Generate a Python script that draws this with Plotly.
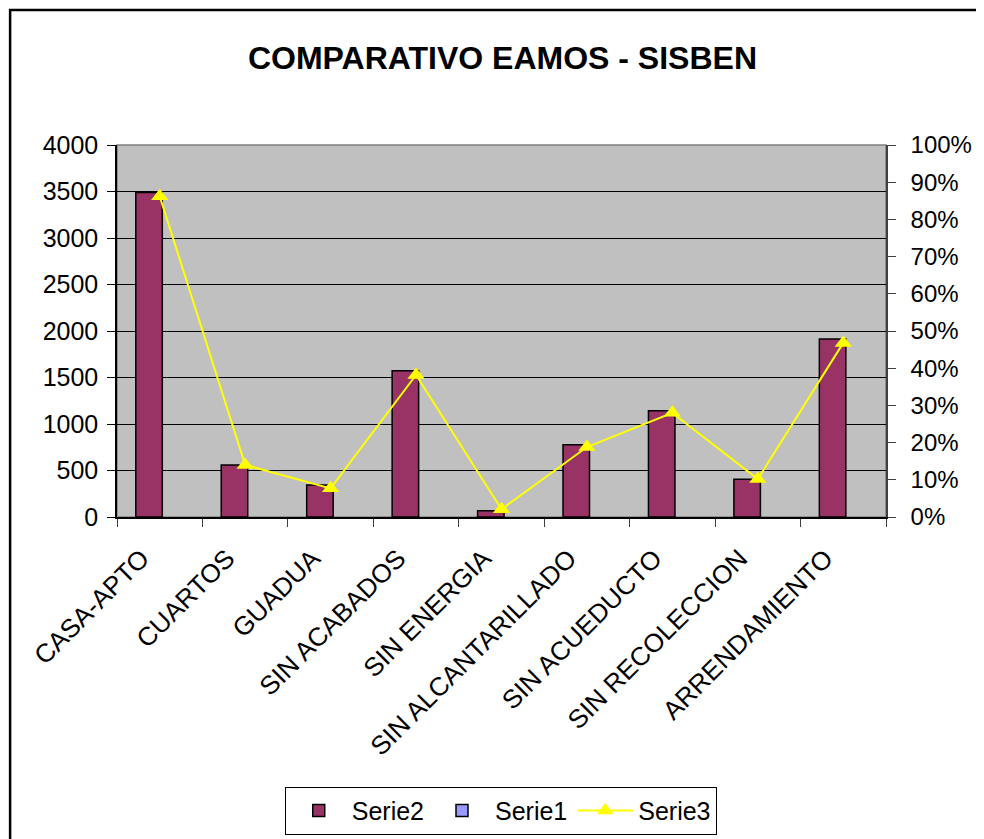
import plotly.graph_objects as go

categories = ["CASA-APTO", "CUARTOS", "GUADUA", "SIN ACABADOS", "SIN ENERGIA",
              "SIN ALCANTARILLADO", "SIN ACUEDUCTO", "SIN RECOLECCION", "ARRENDAMIENTO"]
serie2 = [3490, 560, 345, 1572, 68, 776, 1142, 405, 1914]
serie1 = [None] * 9
serie3 = [0.862, 0.140, 0.077, 0.382, 0.021, 0.188, 0.280, 0.102, 0.468]

left_ticks = [0, 500, 1000, 1500, 2000, 2500, 3000, 3500, 4000]
right_ticks = [i / 10 for i in range(11)]

FONT = "Liberation Sans, Arial, sans-serif"

fig = go.Figure()
fig.add_trace(go.Bar(
    x=categories, y=serie2, name="Serie2",
    marker=dict(color="#993366", line=dict(color="black", width=1.5)),
    offset=-0.28, width=0.31,
))
fig.add_trace(go.Bar(
    x=categories, y=serie1, name="Serie1",
    marker=dict(color="#9999FF", line=dict(color="black", width=1.5)),
    offset=0.03, width=0.31,
))
fig.add_trace(go.Scatter(
    x=categories, y=serie3, name="Serie3", yaxis="y2",
    mode="lines+markers",
    line=dict(color="#FFFF00", width=2),
    marker=dict(symbol="triangle-up", size=15, color="#FFFF00"),
))

boundaries = [i - 0.5 for i in range(len(categories) + 1)]

fig.update_layout(
    width=984, height=839,
    margin=dict(l=109, r=106, t=137, b=330),
    paper_bgcolor="white",
    plot_bgcolor="#C0C0C0",
    barmode="overlay",
    font=dict(family=FONT, size=25, color="black"),
    title=dict(text="<b>COMPARATIVO EAMOS - SISBEN</b>",
               x=0.5025, xanchor="center", y=0.941, yanchor="middle",
               font=dict(family=FONT, size=32, color="black")),
    xaxis=dict(
        type="category", tickangle=-45, showgrid=False,
        ticks="outside", tickson="boundaries", ticklen=8, tickcolor="#404040",
        showline=True, linecolor="black", linewidth=1.5,
        tickfont=dict(family=FONT, size=26),
        ticklabelshift=-18, ticklabelstandoff=14,
        range=[-0.5, 8.5],
    ),
    xaxis2=dict(
        overlaying="x", anchor="y", side="bottom", range=[-0.5, 8.5],
        tickmode="array", tickvals=boundaries, ticks="inside", ticklen=8,
        tickcolor="#404040", showticklabels=False, showgrid=False,
        zeroline=False, showline=False,
    ),
    yaxis=dict(
        range=[0, 4000], tickvals=left_ticks, ticks="outside", ticklen=8,
        tickcolor="black", showline=True, linecolor="black", linewidth=1.5,
        showgrid=True, gridcolor="black", gridwidth=1, zeroline=False,
        tickfont=dict(family=FONT, size=25), ticklabelstandoff=4,
    ),
    yaxis2=dict(
        overlaying="y", side="right", range=[0, 1], tickvals=right_ticks,
        tickformat=".0%", ticks="outside", ticklen=8, tickcolor="#404040",
        showline=True, linecolor="#404040", linewidth=1.5, showgrid=False,
        zeroline=False, tickfont=dict(family=FONT, size=24),
        ticklabelstandoff=10,
    ),
    yaxis3=dict(
        overlaying="y", side="left", range=[0, 4000], tickvals=left_ticks,
        ticks="inside", ticklen=7, tickcolor="black", showticklabels=False,
        showgrid=False, zeroline=False, showline=False,
    ),
    yaxis4=dict(
        overlaying="y", side="right", range=[0, 1], tickvals=right_ticks,
        ticks="inside", ticklen=7, tickcolor="#404040", showticklabels=False,
        showgrid=False, zeroline=False, showline=False,
    ),
    legend=dict(
        orientation="h", x=0.499, xanchor="center", y=-0.725, yanchor="top",
        bordercolor="black", borderwidth=1, bgcolor="white",
        font=dict(family=FONT, size=25), traceorder="normal",
        itemwidth=56,
    ),
    showlegend=True,
    shapes=[
        dict(type="rect", xref="paper", yref="paper", x0=0, x1=1, y0=0, y1=1,
             line=dict(color="#808080", width=1.5), layer="below"),
        dict(type="rect", xref="paper", yref="paper", x0=-0.139, x1=1.14,
             y0=-0.9, y1=1.363, line=dict(color="black", width=2.5)),
    ],
)

fig.write_html("out.html")
